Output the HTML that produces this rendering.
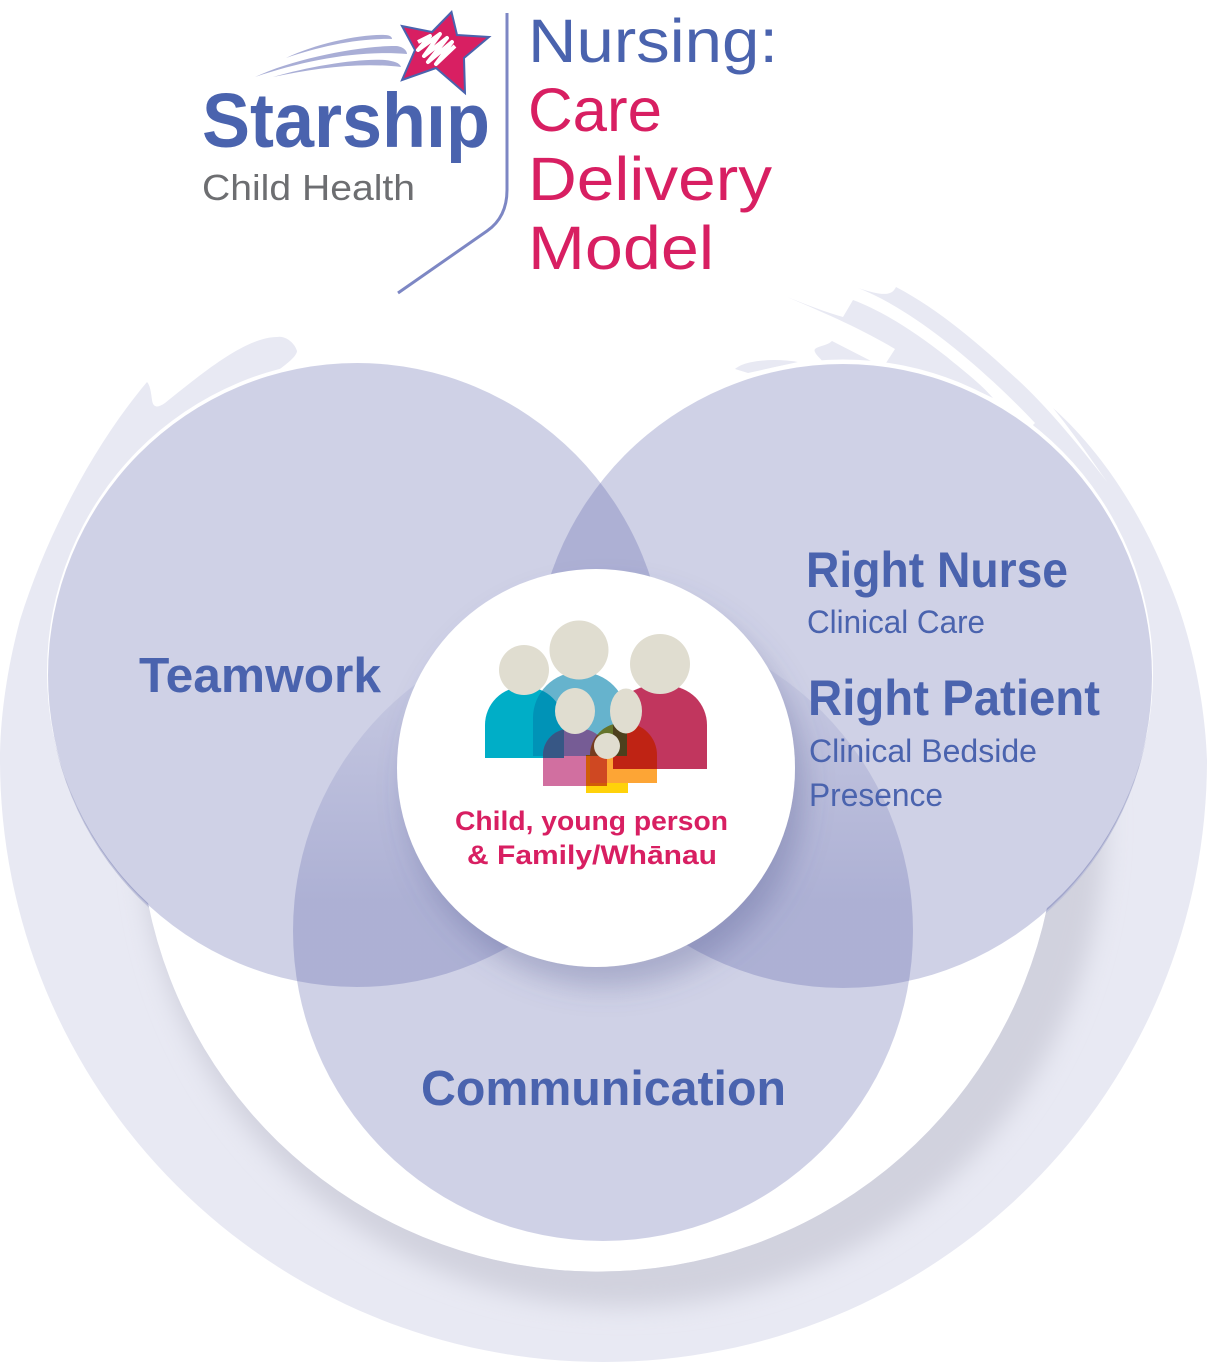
<!DOCTYPE html>
<html><head><meta charset="utf-8"><style>
html,body{margin:0;padding:0;background:#fff}
svg{display:block}
text{font-family:"Liberation Sans",sans-serif}
.b{font-weight:bold;fill:#4a63ae}
.r{fill:#4a63ae}
.p{fill:#d81f62}
</style></head><body>
<svg width="1207" height="1362" viewBox="0 0 1207 1362" xmlns="http://www.w3.org/2000/svg">
<defs>
<path id="ring" d="M147,382 C90,450 45,540 20,620 C8,665 0,715 0,760 A603.5,602 0 0 0 1207,760 C1205,700 1190,630 1168,580 C1140,510 1100,450 1053,408 C1075,435 1095,465 1108,483 C1075,440 1045,405 1018,380 C980,345 940,310 896,287 C892,295 885,297 858,288 C915,310 985,370 1035,423 L1033,425 L1100,520 L1120,800 L1047,908 A459,459 0 0 1 148,903 L80,700 L100,550 L200,420 L277,371 C290,362 297,355 297,351 C295,343 285,335 277,337 C245,337 200,375 165,403 C158,408 153,408 152,400 C151,392 150,385 147,382 Z"/>
<clipPath id="ringClip"><use href="#ring"/></clipPath>
<filter id="bl" x="-20%" y="-20%" width="140%" height="140%"><feGaussianBlur stdDeviation="12"/></filter>
<filter id="ds" x="-30%" y="-30%" width="160%" height="160%"><feDropShadow dx="10" dy="20" stdDeviation="14" flood-color="#50558c" flood-opacity=".3"/></filter>
<linearGradient id="g" gradientUnits="userSpaceOnUse" x1="0" y1="640" x2="0" y2="900">
<stop offset="0" stop-color="#5a61a9" stop-opacity=".05"/><stop offset="1" stop-color="#5a61a9" stop-opacity=".29"/>
</linearGradient>
</defs>

<!-- background swoosh -->
<use href="#ring" fill="#e8e9f3"/>
<path fill="#e8e9f3" d="M787,297 C805,304 825,312 843,317 L853,300 C880,310 913,330 947,357 C960,368 980,383 993,398 C960,382 925,370 886,363 L895,349 C860,328 820,311 787,297 Z"/>
<path fill="#e8e9f3" d="M832,341 C826,347 812,346 815,352 C816,355 820,358 823,362 L873,362 Z"/>
<path fill="#e8e9f3" d="M735,369 C745,360 775,358 798,362 L748,373 Z"/>
<g clip-path="url(#ringClip)">
<circle cx="623" cy="825" r="482" fill="#d1d2de" filter="url(#bl)"/>
<ellipse cx="357" cy="677" rx="309" ry="312" fill="#bfc2da"/>
<ellipse cx="843" cy="678" rx="309" ry="312" fill="#bfc2da"/>
</g>
<ellipse cx="357" cy="672" rx="310" ry="313" fill="#fff"/>
<ellipse cx="843" cy="672.5" rx="310" ry="313" fill="#fff"/>

<!-- three circles -->
<ellipse cx="357" cy="675" rx="309" ry="312" fill="#5a61a9" fill-opacity=".29"/>
<ellipse cx="843" cy="676" rx="309" ry="312" fill="#5a61a9" fill-opacity=".29"/>
<circle cx="603" cy="931" r="310" fill="url(#g)"/>

<!-- centre -->
<circle cx="596" cy="768" r="199" fill="#fff" filter="url(#ds)"/>

<!-- family -->
<path d="M613,769 V725 A39,39 0 0 1 652,686 H668 A39,39 0 0 1 707,725 V769 Z" fill="#c1365e"/>
<path d="M485,758 V725 A38,38 0 0 1 523,687 H526 A38,38 0 0 1 564,725 V758 Z" fill="#00aec7"/>
<path d="M533,756 V718 A46,46 0 0 1 579,672 H581 A46,46 0 0 1 627,718 V756 Z" fill="#0080ab" fill-opacity=".6"/>
<path d="M543,786 V755 A26,26 0 0 1 569,729 H581 A26,26 0 0 1 607,755 V786 Z" fill="#b20f61" fill-opacity=".6"/>
<path d="M543,758 V755 A26,26 0 0 1 564,729.5 V758 Z" fill="#375785"/>
<path d="M564,756 V729 H581 A26,26 0 0 1 607,755 V756 Z" fill="#765c95"/>
<path d="M590,783 V755 A32,32 0 0 1 622,723 H625 A32,32 0 0 1 657,755 V783 Z" fill="#fda535" style="mix-blend-mode:multiply"/>
<path d="M586,793 V755 H590 V783 H628 V793 Z" fill="#ffd20a" style="mix-blend-mode:multiply"/>
<g fill="#e0ddd0">
<circle cx="524" cy="670" r="25"/>
<circle cx="579" cy="650" r="29.5"/>
<circle cx="660" cy="664" r="30"/>
<ellipse cx="575" cy="711" rx="20" ry="23"/>
<ellipse cx="626" cy="711" rx="16" ry="22.500"/>
<circle cx="607" cy="746" r="13"/>
</g>

<text x="455" y="830" class="p" font-size="27" font-weight="bold" textLength="273" lengthAdjust="spacingAndGlyphs">Child, young person</text>
<text x="467" y="864" class="p" font-size="27" font-weight="bold" textLength="250" lengthAdjust="spacingAndGlyphs">&amp; Family/Whānau</text>

<!-- labels -->
<text x="139" y="692" class="b" font-size="49" textLength="242" lengthAdjust="spacingAndGlyphs">Teamwork</text>
<text x="806" y="587" class="b" font-size="50" textLength="262" lengthAdjust="spacingAndGlyphs">Right Nurse</text>
<text x="807" y="633" class="r" font-size="32" textLength="178" lengthAdjust="spacingAndGlyphs">Clinical Care</text>
<text x="808" y="715" class="b" font-size="50" textLength="292" lengthAdjust="spacingAndGlyphs">Right Patient</text>
<text x="809" y="762" class="r" font-size="32" textLength="228" lengthAdjust="spacingAndGlyphs">Clinical Bedside</text>
<text x="809" y="806" class="r" font-size="32" textLength="134" lengthAdjust="spacingAndGlyphs">Presence</text>
<text x="421" y="1105" class="b" font-size="49" textLength="365" lengthAdjust="spacingAndGlyphs">Communication</text>

<!-- logo -->
<text x="202" y="147" class="b" font-size="77" textLength="288" lengthAdjust="spacingAndGlyphs">Starship</text>
<rect x="427" y="86" width="18" height="19" fill="#fff"/>
<text x="202" y="200" font-size="36" fill="#6d6e71" textLength="213" lengthAdjust="spacingAndGlyphs">Child Health</text>
<path d="M286,58 C315,44 360,34 385,35 C390,35 392,37 392,39 C360,38 320,46 286,58 Z" fill="#a9aed6"/>
<path d="M255,77 C295,58 360,46 395,46 C402,46 407,50 407,54 C360,50 305,60 255,77 Z" fill="#a9aed6"/>
<path d="M273,77 C310,66 360,58 385,60 C394,61 400,63 401,67 C360,62 315,68 273,77 Z" fill="#a9aed6"/>
<path d="M451.500,12 L457,35 L489,37 L464,58 L465,93 L436,68 L402,80 L415,50 L402,26 L432,32 Z" fill="#d81f62" stroke="#4a63ae" stroke-width="2" stroke-linejoin="miter"/>
<path d="M418,42 L430,36 L418,50 L440,34 L424,56 L447,38 L428,62 L452,42 L436,64 L455,46" fill="none" stroke="#fff" stroke-width="4" stroke-linejoin="round"/>
<path d="M507,13 V190 C507,208 500,222 487,231 L398,293" fill="none" stroke="#7d87c4" stroke-width="3"/>

<text x="528" y="62" class="r" font-size="61" textLength="250" lengthAdjust="spacingAndGlyphs">Nursing:</text>
<text x="528" y="131" class="p" font-size="61" textLength="134" lengthAdjust="spacingAndGlyphs">Care</text>
<text x="528" y="200" class="p" font-size="61" textLength="244" lengthAdjust="spacingAndGlyphs">Delivery</text>
<text x="528" y="269" class="p" font-size="61" textLength="186" lengthAdjust="spacingAndGlyphs">Model</text>
</svg>
</body></html>
